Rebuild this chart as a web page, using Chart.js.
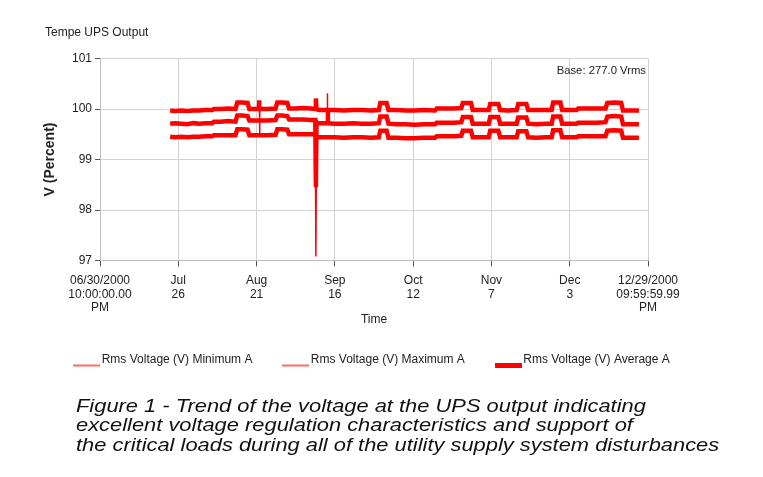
<!DOCTYPE html>
<html><head><meta charset="utf-8">
<script src="https://cdn.jsdelivr.net/npm/chart.js@4/dist/chart.umd.min.js"></script>
<style>
html,body{margin:0;padding:0;background:#fff;}
#wrap{position:relative;width:763px;height:477px;overflow:hidden;background:#fff;}
#c{position:absolute;left:0;top:0;}
#cap{position:absolute;left:76px;top:397px;font:italic 17.5px/19.3px "Liberation Sans",Arial,sans-serif;color:#111;white-space:nowrap;z-index:2;transform:scaleX(1.25);transform-origin:0 0;}
</style></head><body>
<div id="wrap"><canvas id="c" width="763" height="440"></canvas>
<div id="cap">Figure 1 - Trend of the voltage at the UPS output indicating<br>excellent voltage regulation characteristics and support of<br>the critical loads during all of the utility supply system disturbances</div></div>
<script>
// ---- data (x = days since 06/30/2000 22:00) ----
const days = [23.3,25,27,29,31,33,35,37.3,37.8,40,42.5,45.0,45.6,47.3,49.0,49.6,51.5,52.8,52.9,53.0,53.1,55.5,58.3,58.9,60.5,62.2,62.8,65,67.5,70,71.5,71.7,71.9,72.5,75.4,75.5,75.6,75.7,78,81,84,87,90,92.6,93.1,95.2,95.8,98.5,101.5,104.5,107.5,111.3,111.8,114.5,117.5,120.0,120.5,123.2,123.8,126.5,129.1,129.6,132.3,132.9,135.5,138.4,138.9,141.6,142.2,145,148,150.0,150.5,152.9,153.5,156,158.3,158.8,162,165,167.9,168.5,171,173.1,173.7,176.5,179.0];
const maxV = [99.97,99.96,99.97,99.96,99.97,99.97,99.98,99.98,100.00,100.00,100.01,100.00,100.13,100.13,100.12,100.00,100.00,100.00,100.17,99.52,100.00,100.00,100.01,100.13,100.13,100.12,100.01,100.01,100.02,100.01,100.00,100.21,100.00,99.98,99.98,100.31,99.76,99.98,99.98,99.97,99.98,99.98,99.97,99.98,100.12,100.12,99.98,99.98,99.97,99.97,99.98,99.97,100.01,100.01,100.01,100.02,100.12,100.12,99.98,99.98,99.98,100.10,100.10,99.98,99.97,99.98,100.10,100.10,99.98,99.98,99.98,99.98,100.13,100.13,99.98,99.98,99.98,100.01,100.01,100.01,100.01,100.12,100.13,100.12,99.97,99.97,99.97];
const avgV = [99.71,99.72,99.71,99.70,99.72,99.71,99.72,99.72,99.75,99.75,99.76,99.75,99.87,99.87,99.86,99.77,99.77,99.77,99.77,99.77,99.77,99.77,99.78,99.87,99.87,99.86,99.79,99.79,99.79,99.78,99.78,98.45,99.72,99.72,99.72,99.72,99.72,99.72,99.71,99.71,99.72,99.71,99.71,99.72,99.85,99.85,99.71,99.70,99.70,99.69,99.70,99.70,99.73,99.73,99.73,99.74,99.84,99.84,99.71,99.71,99.71,99.84,99.84,99.71,99.71,99.71,99.83,99.83,99.71,99.70,99.71,99.71,99.85,99.85,99.71,99.71,99.71,99.73,99.73,99.73,99.74,99.85,99.86,99.85,99.70,99.70,99.70];
const minV = [99.45,99.44,99.45,99.44,99.45,99.45,99.46,99.46,99.48,99.48,99.48,99.48,99.60,99.60,99.59,99.48,99.48,99.48,99.48,99.48,99.48,99.48,99.49,99.60,99.60,99.59,99.50,99.50,99.50,99.50,99.50,97.08,99.44,99.44,99.44,99.44,99.44,99.44,99.44,99.43,99.44,99.44,99.43,99.44,99.57,99.57,99.43,99.43,99.42,99.42,99.43,99.43,99.46,99.46,99.46,99.47,99.57,99.57,99.44,99.44,99.44,99.57,99.57,99.44,99.44,99.44,99.56,99.56,99.44,99.43,99.44,99.44,99.58,99.58,99.44,99.44,99.44,99.46,99.46,99.46,99.46,99.57,99.58,99.57,99.43,99.43,99.43];
const seriesNames = ["Rms Voltage (V) Minimum A","Rms Voltage (V) Maximum A","Rms Voltage (V) Average A"];
const tickDays = [0,26,52,78,104,130,156,182];
const tickLabels = [["06/30/2000","10:00:00.00","PM"],["Jul","26"],["Aug","21"],["Sep","16"],["Oct","12"],["Nov","7"],["Dec","3"],["12/29/2000","09:59:59.99","PM"]];
const yTicks = [97,98,99,100,101];
const chartTitle = "Tempe UPS Output";
const baseNote = "Base: 277.0 Vrms";
const xTitle = "Time";
const yTitle = "V (Percent)";

const FONT = '"Liberation Sans", Arial, sans-serif';
Chart.defaults.font.family = FONT;
Chart.defaults.color = '#222';

function mkLine(color, thick){
  const c = document.createElement('canvas'); c.width = 27; c.height = 16;
  const g = c.getContext('2d'); g.fillStyle = color;
  g.fillRect(0, 13.5 - thick/2, 27, thick); return c;
}
const legendImgs = [mkLine('#ff6b6b',2), mkLine('#ff6b6b',2), mkLine('#ff0000',5)];

const pts = arr => days.map((d,i)=>({x:d, y:arr[i]}));
const thinSpikes = {borderWidth: c => Math.abs(c.p1.parsed.y - c.p0.parsed.y) > 0.3 ? 1.5 : 4.5};

const LEG_PAD = 34;
let rightW = 115;
const textPlugin = {
  id: 'texts',
  afterLayout(chart){
    const lg = chart.legend; if (!lg || !lg.lineWidths) return;
    const W = lg.lineWidths[0];
    lg.left = 0; lg.right = 2*77.3 - LEG_PAD + W; lg.width = lg.right;
    lg.top = 360 - LEG_PAD - 6;
  },
  afterDraw(chart){
    const g = chart.ctx; g.save();
    g.fillStyle = '#222'; g.textBaseline = 'middle';
    g.font = '12px ' + FONT; g.textAlign = 'left';
    g.fillText(chartTitle, 45, 33);
    g.font = '11.3px ' + FONT; g.textAlign = 'right';
    g.fillText(baseNote, 646, 71);
    g.restore();
  }
};

const cfg = {
  type: 'line',
  data: { datasets: [
    {label: seriesNames[0], data: pts(minV), borderColor:'#ff0000', borderWidth:4.5, pointRadius:0, tension:0, segment: thinSpikes, order:2, yAxisID:'y'},
    {label: seriesNames[1], data: pts(maxV), borderColor:'#ff0000', borderWidth:4.5, pointRadius:0, tension:0, segment: thinSpikes, order:1, yAxisID:'y'},
    {label: seriesNames[2], data: pts(avgV), borderColor:'#ff0000', borderWidth:4.5, pointRadius:0, tension:0, order:0, yAxisID:'y'}
  ]},
  options: {
    responsive:false, animation:false, devicePixelRatio:1,
    layout:{padding:{left:0, right:0, top:58.5, bottom:0}},
    plugins:{
      legend:{position:'bottom', labels:{usePointStyle:true, pointStyleWidth:18.4, padding:LEG_PAD, font:{size:12}, color:'#222',
        generateLabels: () => seriesNames.map((n,i)=>({text:n, pointStyle:legendImgs[i], datasetIndex:i, hidden:false, lineWidth:0, strokeStyle:'rgba(0,0,0,0)', fillStyle:'rgba(0,0,0,0)', fontColor:'#222'}))}},
      tooltip:{enabled:false}
    },
    scales:{
      x:{type:'linear', min:0, max:182,
        afterBuildTicks: s => { s.ticks = tickDays.map(v=>({value:v})); },
        afterFit: s => { s.height = 66.7; },
        grid:{color:'#d2d2d2', tickColor:'#555', tickLength:6},
        border:{color:'#bdbdbd'},
        ticks:{autoSkip:false, maxRotation:0, padding:8, font:{size:12, lineHeight:1.11}, color:'#222', callback:(v,i)=>tickLabels[i]},
        title:{display:true, text:xTitle, font:{size:12}, color:'#222', padding:{top:0,bottom:0}}
      },
      y:{position:'left', min:97, max:101,
        afterBuildTicks: s => { s.ticks = yTicks.map(v=>({value:v})); },
        afterFit: s => { s.width = 100; },
        grid:{color:'#d2d2d2', tickColor:'#555', tickLength:5},
        border:{color:'#bdbdbd'},
        ticks:{padding:3, font:{size:12}, color:'#222', callback:v=>String(v)},
        title:{display:true, text:yTitle, font:{size:14, weight:'bold'}, color:'#222', padding:{top:41.6,bottom:0}}
      },
      yRight:{position:'right', min:97, max:101, display:true,
        afterFit: s => { s.width = rightW; },
        grid:{display:false, drawTicks:false}, border:{display:false},
        ticks:{display:false}
      }
    }
  },
  plugins:[textPlugin]
};
const chart = new Chart(document.getElementById('c'), cfg);
for (let k=0;k<4;k++){
  const a = chart.chartArea, p = chart.options.layout.padding;
  const db = a.bottom - 260.5, dr = a.right - 648, dt = a.top - 58.5;
  if (Math.abs(db)<0.05 && Math.abs(dr)<0.05 && Math.abs(dt)<0.05) break;
  p.bottom = Math.max(0, p.bottom + db); rightW = rightW + dr; p.top = p.top - dt;
  chart.update('none');
}
</script></body></html>
